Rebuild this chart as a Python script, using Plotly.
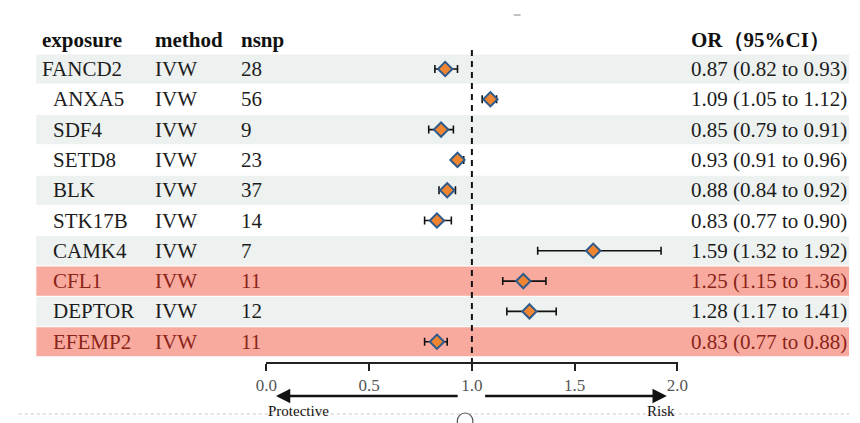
import plotly.graph_objects as go

# ---- data -------------------------------------------------------------
exposure = ["FANCD2", "ANXA5", "SDF4", "SETD8", "BLK", "STK17B",
            "CAMK4", "CFL1", "DEPTOR", "EFEMP2"]
method = ["IVW"] * 10
nsnp = [28, 56, 9, 23, 37, 14, 7, 11, 12, 11]
or_val = [0.87, 1.09, 0.85, 0.93, 0.88, 0.83, 1.59, 1.25, 1.28, 0.83]
ci_low = [0.82, 1.05, 0.79, 0.91, 0.84, 0.77, 1.32, 1.15, 1.17, 0.77]
ci_high = [0.93, 1.12, 0.91, 0.96, 0.92, 0.90, 1.92, 1.36, 1.41, 0.88]
highlight = [False] * 7 + [True, False, True]
x_ticks = [0.0, 0.5, 1.0, 1.5, 2.0]
headers = ["exposure", "method", "nsnp", "OR（95%CI）"]

# ---- layout constants (pixels) ------------------------------------------
W, H = 860, 423
ROW_H = 30.3
ROW0 = 69.0            # pixel centre of the first row
FONT = "Liberation Serif, Times New Roman, serif"
GREY_BAND = "#edf1ef"
RED_BAND = "#f9aa9e"
RED_TEXT = "#8a2418"
TXT = "#1c1c1c"

n = len(exposure)
rows = list(range(1, n + 1))

# y axis in "row" units; reversed so row 1 is at the top
y_top = (0 - (ROW0 - ROW_H)) / ROW_H
y_bot = (H - (ROW0 - ROW_H)) / ROW_H


def py(pixel):
    """pixel row -> y data value"""
    return (pixel - (ROW0 - ROW_H)) / ROW_H


fig = go.Figure()

# point estimates with confidence intervals
fig.add_trace(go.Scatter(
    x=or_val, y=rows, mode="markers",
    marker=dict(symbol="diamond", size=11, color="#ef8530",
                line=dict(color="#2e5b8c", width=2)),
    error_x=dict(type="data", symmetric=False,
                 array=[h - o for h, o in zip(ci_high, or_val)],
                 arrayminus=[o - l for o, l in zip(or_val, ci_low)],
                 color="#111111", thickness=1.6, width=4),
    hoverinfo="skip", showlegend=False, cliponaxis=False,
))

shapes = []
annotations = []

# row backgrounds
for i, r in enumerate(rows):
    if highlight[i]:
        col = RED_BAND
    elif i % 2 == 0:
        col = GREY_BAND
    else:
        col = None
    if col:
        shapes.append(dict(type="rect", xref="paper", yref="y",
                           x0=26 / W, x1=1.0, y0=r - 0.48, y1=r + 0.48,
                           fillcolor=col, line=dict(width=0), layer="below"))

# reference line at OR = 1
shapes.append(dict(type="line", xref="x", yref="y", x0=1, x1=1,
                   y0=py(50), y1=py(362),
                   line=dict(color="#111111", width=2, dash="6px,5px")))

# faint page details along the bottom
shapes.append(dict(type="line", xref="paper", yref="paper",
                   x0=8 / W, x1=1, y0=1 - 414 / H, y1=1 - 414 / H,
                   line=dict(color="#c8c8c8", width=1, dash="dot")))
shapes.append(dict(type="circle", xref="paper", yref="paper",
                   x0=458 / W, x1=474 / W, y0=1 - 429 / H, y1=1 - 413 / H,
                   line=dict(color="#555555", width=1.2),
                   fillcolor="white"))
shapes.append(dict(type="line", xref="paper", yref="paper",
                   x0=516 / W, x1=523 / W, y0=1 - 15 / H, y1=1 - 15 / H,
                   line=dict(color="#9a9a9a", width=1.2)))

# column positions (paper fraction)
col_x = [30 / W, 146 / W, 234 / W, 696 / W]
name_x = [30 / W] + [41 / W] * (n - 1)


def txt(x, y, s, color=TXT, bold=False, size=21, anchor="left"):
    annotations.append(dict(
        xref="paper", yref="y", x=x, y=y, text=f"<b>{s}</b>" if bold else s,
        showarrow=False, xanchor=anchor, yanchor="middle",
        font=dict(family=FONT, size=size, color=color)))


# headers
for hx, h in zip(col_x, headers):
    txt(hx, py(40), h, color="#111111", bold=True)

# table body
for i, r in enumerate(rows):
    c = RED_TEXT if highlight[i] else TXT
    txt(name_x[i], r, exposure[i], c)
    txt(col_x[1], r, method[i], c)
    txt(col_x[2], r, str(nsnp[i]), c)
    txt(col_x[3], r,
        f"{or_val[i]:.2f} ({ci_low[i]:.2f} to {ci_high[i]:.2f})", c)

# direction arrows below the axis
y_arrow = 1 - 396 / H
for tail, head in [(0.938, 0.047), (1.057, 1.948)]:
    annotations.append(dict(
        xref="x", yref="y domain", axref="x", ayref="y domain",
        x=head, y=y_arrow, ax=tail, ay=y_arrow, text="",
        showarrow=True, arrowhead=2, arrowsize=1.1, arrowwidth=2.6,
        arrowcolor="#111111"))
annotations.append(dict(xref="x", yref="paper", x=0.0, y=1 - 411 / H,
                        text="Protective", showarrow=False, xanchor="left",
                        yanchor="middle",
                        font=dict(family=FONT, size=15, color="#111111")))
annotations.append(dict(xref="x", yref="paper", x=2.0, y=1 - 411 / H,
                        text="Risk", showarrow=False, xanchor="right",
                        yanchor="middle",
                        font=dict(family=FONT, size=15, color="#111111")))

fig.update_layout(
    width=W, height=H, margin=dict(l=0, r=0, t=0, b=0),
    paper_bgcolor="white", plot_bgcolor="rgba(0,0,0,0)",
    shapes=shapes, annotations=annotations, showlegend=False,
    xaxis=dict(domain=[262 / W, 684 / W], range=[0, 2],
               anchor="free", position=1 - 363 / H,
               showline=True, linecolor="#222222", linewidth=1.5,
               ticks="outside", ticklen=7, tickwidth=1.5, tickcolor="#222222",
               tickvals=x_ticks, ticktext=[f"{v:.1f}" for v in x_ticks],
               tickfont=dict(family=FONT, size=17, color="#555555"),
               showgrid=False, zeroline=False, fixedrange=True),
    yaxis=dict(domain=[0, 1], range=[y_bot, y_top], visible=False,
               showgrid=False, zeroline=False, fixedrange=True),
)

fig.write_html("out.html")
